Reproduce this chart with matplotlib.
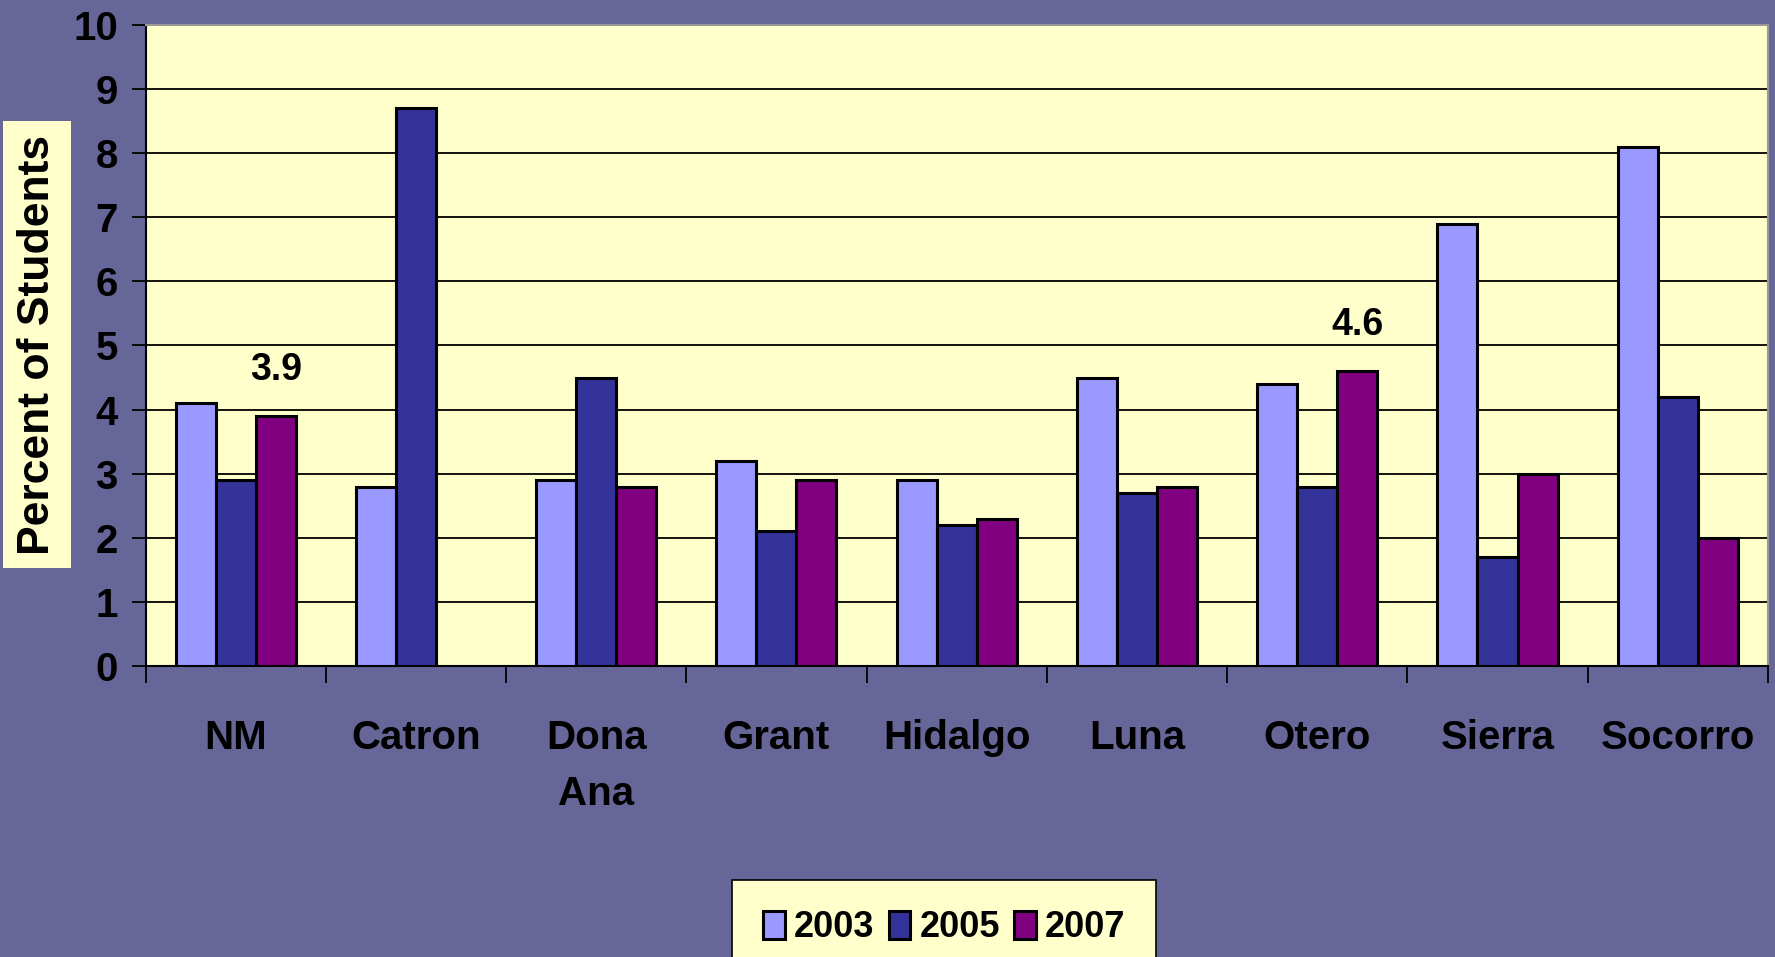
import matplotlib
matplotlib.use('Agg')
import matplotlib.pyplot as plt
import numpy as np

counties = ['NM', 'Catron', 'Dona\nAna', 'Grant', 'Hidalgo', 'Luna', 'Otero', 'Sierra', 'Socorro']
years = ['2003', '2005', '2007']
v2003 = [4.1, 2.8, 2.9, 3.2, 2.9, 4.5, 4.4, 6.9, 8.1]
v2005 = [2.9, 8.7, 4.5, 2.1, 2.2, 2.7, 2.8, 1.7, 4.2]
v2007 = [3.9, np.nan, 2.8, 2.9, 2.3, 2.8, 4.6, 3.0, 2.0]
labelled = {0: '3.9', 6: '4.6'}  # value labels on 2007 bars

colors = ['#9999FF', '#333399', '#800080']
bg = '#666699'
face = '#FFFFCC'

plt.rcParams['font.family'] = ['Liberation Sans', 'DejaVu Sans']
plt.rcParams['font.weight'] = 'bold'

fig = plt.figure(figsize=(17.75, 9.57), dpi=100, facecolor=bg)
ax = fig.add_axes([0.082, 0.304, 0.914, 0.670])
ax.set_facecolor(face)

x = np.arange(len(counties))
w = 0.222
for i, (vals, c, lab) in enumerate(zip([v2003, v2005, v2007], colors, years)):
    ax.bar(x + (i - 1) * w, vals, w, color=c, edgecolor='black', linewidth=2.2,
           label=lab, zorder=3)

for k, t in labelled.items():
    ax.text(x[k] + w, v2007[k] + 0.72, t, ha='center', va='center',
            fontsize=27, fontweight='bold')

ax.set_xlim(-0.5, len(counties) - 0.5)
ax.set_ylim(0, 10)
ax.set_yticks(range(0, 11))
ax.yaxis.grid(True, color='black', linewidth=1.3, zorder=0)
ax.tick_params(axis='y', length=10, width=1.3, labelsize=29, pad=10, direction='out')

ax.set_xticks(np.arange(-0.5, len(counties), 1.0))
ax.set_xticklabels([])
ax.tick_params(axis='x', which='major', length=12, width=1.3, direction='out')
ax.set_xticks(x, minor=True)
ax.set_xticklabels(counties, minor=True, fontsize=29, fontweight='bold', linespacing=1.6)
ax.tick_params(axis='x', which='minor', length=0, pad=38)

for s in ['left', 'bottom']:
    ax.spines[s].set_linewidth(1.5)
    ax.spines[s].set_color('black')
for s in ['top', 'right']:
    ax.spines[s].set_color('#999999')
    ax.spines[s].set_linewidth(1.5)

fig.text(0.021, 0.64, 'Percent of Students', rotation=90, ha='center', va='center',
         fontsize=32, fontweight='bold',
         bbox=dict(boxstyle='square,pad=0.3', fc=face, ec='none'))

leg = ax.legend(loc='lower center', bbox_to_anchor=(0.532, -0.02), bbox_transform=fig.transFigure,
                ncol=3, frameon=True, fancybox=False, fontsize=26, handlelength=0.6,
                handleheight=0.85, handletextpad=0.25, columnspacing=0.4, borderpad=0.85,
                borderaxespad=0)
leg.get_frame().set_facecolor(face)
leg.get_frame().set_edgecolor('black')
leg.get_frame().set_linewidth(1.2)
leg.get_frame().set_alpha(1)

fig.savefig('out.png', dpi=100, facecolor=bg)
